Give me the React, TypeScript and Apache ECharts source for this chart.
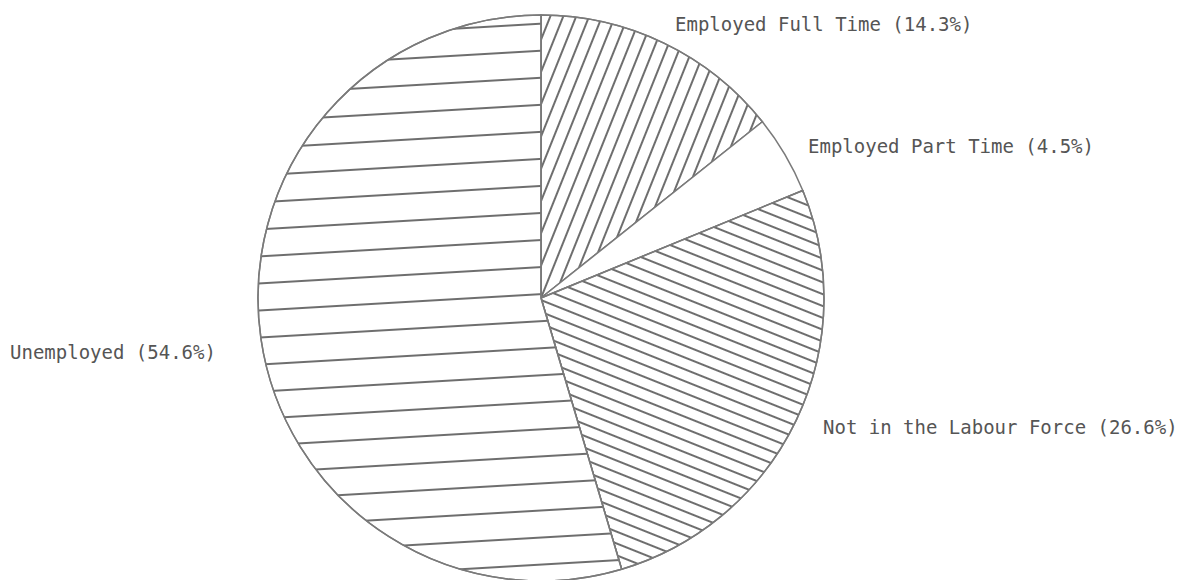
import React, { useEffect, useRef } from "react";
import * as echarts from "echarts";

// Data
const categories = [
  "Employed Full Time",
  "Employed Part Time",
  "Not in the Labour Force",
  "Unemployed",
];
const shares = [14.3, 4.5, 26.6, 54.6];

// Layout (label anchors, left-aligned, vertically centred)
const labelAnchors: [number, number][] = [
  [675, 24],
  [808, 146],
  [823, 427],
  [10, 352],
];

// Hatching styles
const hatchGap = [10, 0, 9, 25];
const hatchRotation = [-1.19, 0, 0.38, -0.058];

export default function App() {
  const ref = useRef<HTMLDivElement>(null);
  useEffect(() => {
    if (!ref.current) return;
    const chart = echarts.init(ref.current, null, { renderer: "svg" });
    const data = categories.map((name, i) => ({
      name,
      value: shares[i],
      itemStyle: {
        color: "#ffffff",
        decal:
          hatchGap[i] > 0
            ? {
                symbol: "rect",
                symbolSize: 1,
                color: "#6e6e6e",
                backgroundColor: "#ffffff",
                dashArrayX: [1, 0],
                dashArrayY: [1.3, hatchGap[i]],
                rotation: hatchRotation[i],
              }
            : undefined,
      },
    }));
    chart.setOption({
      animation: false,
      backgroundColor: "#ffffff",
      series: [
        {
          type: "pie",
          center: [541, 298],
          radius: [0, 283],
          startAngle: 90,
          clockwise: true,
          data,
          itemStyle: { borderColor: "#7a7a7a", borderWidth: 1.5 },
          label: {
            show: true,
            position: "outside",
            formatter: "{b} ({c}%)",
            fontFamily: "DejaVu Sans Mono",
            fontSize: 19,
            color: "#555555",
            overflow: "none",
            width: 400,
          },
          labelLine: { show: false },
          labelLayout: (p: any) => ({
            x: labelAnchors[p.dataIndex][0],
            y: labelAnchors[p.dataIndex][1],
            align: "left",
            verticalAlign: "middle",
          }),
          emphasis: { disabled: true },
        },
      ],
    });
    return () => chart.dispose();
  }, []);
  return (
    <div
      ref={ref}
      style={{ position: "absolute", left: 0, top: 0, width: 1189, height: 580 }}
    />
  );
}
